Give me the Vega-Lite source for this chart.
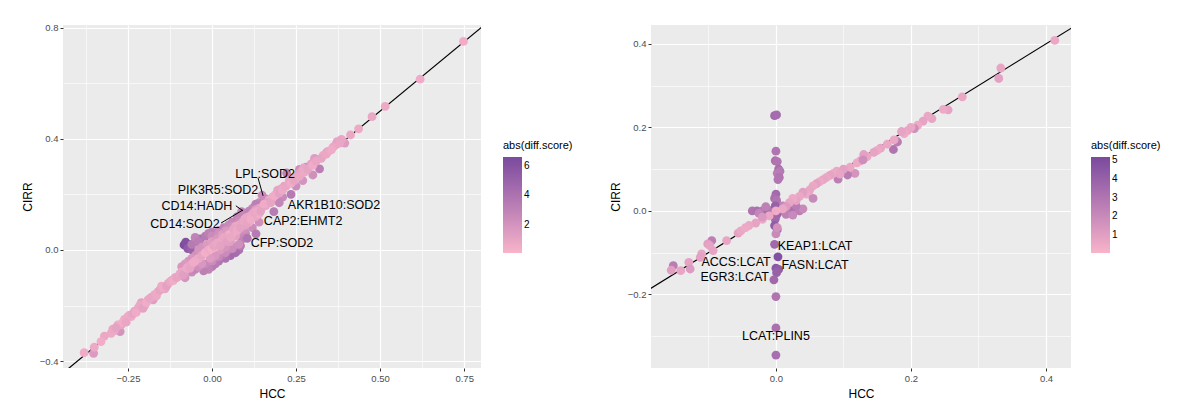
{
  "$schema": "https://vega.github.io/schema/vega-lite/v6.json",
  "background": "white",
  "padding": {"left": 21, "top": 22, "right": 0, "bottom": 0},
  "config": {
    "font": "Liberation Sans",
    "view": {"stroke": null, "fill": "#EBEBEB"},
    "axis": {"domain": false, "gridColor": "white", "tickColor": "#333333", "tickSize": 3, "labelColor": "#4D4D4D", "labelFontSize": 9.5, "labelFont": "Liberation Sans", "titleFontSize": 12, "titleFontWeight": "normal", "titleColor": "black", "titleFont": "Liberation Sans", "labelPadding": 2, "titlePadding": 5},
    "legend": {"titleFontSize": 11, "titleFontWeight": "normal", "titleColor": "black", "titleFont": "Liberation Sans", "labelFontSize": 10, "labelColor": "black", "labelFont": "Liberation Sans", "gradientLength": 96, "gradientThickness": 19, "gradientStrokeWidth": 0, "titlePadding": 6, "labelOffset": 5}
  },
  "datasets": {
    "L": [
      {"x":-0.083,"y":0.018,"d":6.5},{"x":-0.07,"y":0.02,"d":6.0},{"x":-0.078,"y":0.028,"d":6.2},{"x":-0.072,"y":0.005,"d":5.5},{"x":-0.06,"y":0.0,"d":5.0},{"x":-0.05,"y":0.03,"d":4.5},{"x":-0.045,"y":-0.01,"d":4.8},{"x":-0.035,"y":0.04,"d":4.2},{"x":-0.03,"y":0.015,"d":3.8},{"x":-0.02,"y":0.05,"d":3.5},{"x":-0.01,"y":0.06,"d":3.2},{"x":0.0,"y":0.065,"d":3.0},{"x":0.02,"y":0.07,"d":2.8},{"x":0.035,"y":0.08,"d":3.0},{"x":0.05,"y":0.09,"d":2.6},{"x":0.06,"y":0.1,"d":2.7},{"x":0.075,"y":0.12,"d":2.9},{"x":0.08,"y":0.0,"d":4.0},{"x":0.07,"y":-0.01,"d":4.3},{"x":0.065,"y":0.01,"d":3.7},{"x":0.055,"y":-0.02,"d":4.5},{"x":0.045,"y":-0.005,"d":3.9},{"x":0.04,"y":-0.03,"d":4.0},{"x":0.03,"y":-0.02,"d":3.6},{"x":0.02,"y":-0.04,"d":3.8},{"x":0.01,"y":-0.05,"d":3.4},{"x":0.0,"y":-0.06,"d":3.5},{"x":-0.01,"y":-0.07,"d":3.0},{"x":-0.025,"y":-0.075,"d":3.2},{"x":0.09,"y":0.04,"d":3.0},{"x":0.085,"y":0.015,"d":3.5},
      {"x":-0.06,"y":0.02,"d":3.5},{"x":-0.05,"y":0.045,"d":3.0},{"x":-0.04,"y":0.03,"d":3.3},{"x":0.0,"y":0.05,"d":2.5},{"x":0.02,"y":0.06,"d":2.2},{"x":0.04,"y":0.07,"d":2.0},{"x":0.06,"y":0.085,"d":2.3},{"x":0.08,"y":0.105,"d":2.5},{"x":0.1,"y":0.13,"d":2.4},{"x":0.12,"y":0.15,"d":2.6},{"x":0.14,"y":0.17,"d":2.8},{"x":0.16,"y":0.185,"d":2.3},{"x":0.11,"y":0.14,"d":3.0},{"x":0.13,"y":0.165,"d":3.2},
      {"x":-0.06,"y":-0.08,"d":2.5},{"x":-0.05,"y":-0.07,"d":2.8},{"x":-0.04,"y":-0.06,"d":2.2},{"x":-0.08,"y":-0.1,"d":2.0},{"x":-0.02,"y":-0.05,"d":2.6},{"x":0.0,"y":-0.04,"d":2.4},{"x":0.02,"y":-0.025,"d":2.7},{"x":0.04,"y":-0.01,"d":2.5},{"x":0.06,"y":0.005,"d":2.4},{"x":0.08,"y":0.02,"d":2.2},{"x":0.1,"y":0.06,"d":2.6},{"x":0.12,"y":0.08,"d":2.4},{"x":0.14,"y":0.1,"d":2.2},
      {"x":0.3,"y":0.27,"d":2.2},{"x":0.27,"y":0.25,"d":2.0},{"x":0.25,"y":0.23,"d":2.4},{"x":0.21,"y":0.19,"d":2.6},{"x":0.2,"y":0.17,"d":2.8},{"x":0.26,"y":0.29,"d":2.3},{"x":0.34,"y":0.35,"d":1.8},{"x":0.39,"y":0.39,"d":2.0},
      {"x":-0.02,"y":0.0,"d":1.2},{"x":-0.03,"y":0.01,"d":2.0},{"x":-0.05,"y":-0.02,"d":2.2},{"x":-0.06,"y":-0.03,"d":1.8},{"x":-0.07,"y":-0.04,"d":2.0},{"x":-0.08,"y":-0.05,"d":1.6},{"x":-0.09,"y":-0.06,"d":1.8},
      {"x":0.32,"y":0.292,"d":3.3},{"x":0.28,"y":0.298,"d":2.5},{"x":0.222,"y":0.277,"d":3.0},{"x":0.235,"y":0.2,"d":3.5},{"x":0.184,"y":0.138,"d":3.4},{"x":0.149,"y":0.197,"d":2.5},{"x":0.131,"y":0.058,"d":3.5},{"x":0.105,"y":0.042,"d":3.8},{"x":0.088,"y":0.138,"d":2.8},{"x":0.095,"y":0.075,"d":2.2},{"x":0.075,"y":0.055,"d":2.5},{"x":-0.273,"y":-0.294,"d":2.0},{"x":-0.352,"y":-0.372,"d":1.6},
      {"x":0.748,"y":0.751,"d":0.5},{"x":0.619,"y":0.615,"d":0.6},{"x":0.515,"y":0.517,"d":0.7},{"x":0.476,"y":0.48,"d":0.8},{"x":0.436,"y":0.436,"d":0.7},{"x":0.412,"y":0.414,"d":0.8},{"x":0.395,"y":0.385,"d":1.5},{"x":0.385,"y":0.398,"d":0.9},{"x":0.372,"y":0.39,"d":1.0},{"x":0.368,"y":0.378,"d":1.2},{"x":0.36,"y":0.37,"d":0.8},{"x":0.345,"y":0.355,"d":0.9},{"x":0.33,"y":0.34,"d":0.7},{"x":0.325,"y":0.33,"d":1.0},{"x":0.305,"y":0.33,"d":1.5},{"x":0.295,"y":0.31,"d":1.1},{"x":0.272,"y":0.295,"d":0.9},{"x":0.265,"y":0.28,"d":0.7},{"x":0.255,"y":0.272,"d":1.0},{"x":0.24,"y":0.26,"d":0.8},{"x":0.23,"y":0.25,"d":0.9},{"x":0.215,"y":0.23,"d":1.2},{"x":0.205,"y":0.22,"d":0.8},{"x":0.195,"y":0.215,"d":1.0},{"x":0.19,"y":0.2,"d":0.9},{"x":0.18,"y":0.19,"d":1.1},{"x":0.17,"y":0.18,"d":0.7},{"x":0.165,"y":0.17,"d":1.3},{"x":0.16,"y":0.16,"d":0.9},{"x":0.15,"y":0.155,"d":1.0},{"x":0.14,"y":0.15,"d":0.8},{"x":0.13,"y":0.145,"d":1.4},{"x":0.12,"y":0.13,"d":1.0},{"x":0.11,"y":0.12,"d":0.7},{"x":0.1,"y":0.115,"d":0.9},{"x":0.09,"y":0.1,"d":1.3},{"x":0.08,"y":0.09,"d":1.0},{"x":0.07,"y":0.085,"d":0.8},{"x":0.06,"y":0.07,"d":0.7},
      {"x":-0.015,"y":0.02,"d":1.6},{"x":0.0,"y":0.03,"d":1.4},{"x":0.015,"y":0.04,"d":1.8},{"x":0.03,"y":0.055,"d":1.5},{"x":0.045,"y":0.065,"d":1.7},{"x":0.025,"y":0.0,"d":1.6},{"x":0.01,"y":-0.02,"d":1.8},{"x":-0.005,"y":-0.03,"d":1.5},{"x":0.04,"y":0.01,"d":1.9},{"x":0.055,"y":0.03,"d":1.4},{"x":0.07,"y":0.05,"d":1.2},{"x":-0.04,"y":0.0,"d":2.0},{"x":-0.03,"y":-0.05,"d":1.8},
      {"x":-0.1,"y":-0.095,"d":1.0},{"x":-0.09,"y":-0.08,"d":0.6},{"x":-0.08,"y":-0.075,"d":0.8},{"x":-0.07,"y":-0.06,"d":1.2},{"x":-0.06,"y":-0.05,"d":0.9},{"x":-0.05,"y":-0.04,"d":0.5},{"x":-0.04,"y":-0.03,"d":0.7},{"x":-0.03,"y":-0.02,"d":1.0},{"x":-0.02,"y":-0.01,"d":0.4},{"x":-0.01,"y":0.0,"d":0.6},{"x":0.0,"y":0.005,"d":0.3},{"x":0.01,"y":0.01,"d":0.5},{"x":0.02,"y":0.02,"d":0.4},{"x":0.03,"y":0.035,"d":0.6},{"x":0.04,"y":0.04,"d":0.3},{"x":0.05,"y":0.055,"d":0.5},{"x":0.06,"y":0.06,"d":0.4},{"x":0.1,"y":0.09,"d":1.1},{"x":0.11,"y":0.1,"d":0.5},{"x":0.12,"y":0.115,"d":0.6},{"x":0.13,"y":0.12,"d":0.9},{"x":0.14,"y":0.13,"d":0.5},
      {"x":0.005,"y":0.015,"d":1.0},{"x":0.015,"y":0.025,"d":0.8},{"x":0.025,"y":0.015,"d":1.1},{"x":0.035,"y":0.045,"d":0.9},{"x":0.045,"y":0.03,"d":1.2},{"x":0.055,"y":0.045,"d":0.8},{"x":0.065,"y":0.075,"d":1.0},{"x":0.075,"y":0.07,"d":0.7},{"x":0.085,"y":0.08,"d":1.1},{"x":0.095,"y":0.105,"d":0.8},{"x":0.105,"y":0.1,"d":1.0},{"x":0.115,"y":0.11,"d":0.6},{"x":0.125,"y":0.135,"d":0.9},{"x":0.135,"y":0.14,"d":0.7},{"x":0.145,"y":0.14,"d":1.1},{"x":0.155,"y":0.165,"d":0.6},{"x":0.175,"y":0.17,"d":1.0},{"x":0.185,"y":0.195,"d":0.6},{"x":0.2,"y":0.205,"d":1.1},{"x":0.21,"y":0.215,"d":0.7},{"x":0.22,"y":0.23,"d":0.9},{"x":0.235,"y":0.24,"d":0.6},{"x":0.245,"y":0.25,"d":1.0},{"x":0.26,"y":0.265,"d":0.8},{"x":0.275,"y":0.28,"d":0.7},{"x":0.285,"y":0.29,"d":1.0},{"x":0.3,"y":0.305,"d":0.6},{"x":0.31,"y":0.32,"d":0.9},{"x":0.34,"y":0.345,"d":0.8},{"x":0.355,"y":0.36,"d":0.6},{"x":0.38,"y":0.385,"d":0.9},
      {"x":-0.11,"y":-0.1,"d":0.8},{"x":-0.12,"y":-0.11,"d":1.2},{"x":-0.13,"y":-0.12,"d":0.9},{"x":-0.14,"y":-0.14,"d":1.0},{"x":-0.15,"y":-0.13,"d":0.7},{"x":-0.16,"y":-0.15,"d":1.1},{"x":-0.17,"y":-0.16,"d":0.6},{"x":-0.175,"y":-0.18,"d":1.4},{"x":-0.18,"y":-0.17,"d":0.8},{"x":-0.19,"y":-0.18,"d":1.0},{"x":-0.2,"y":-0.2,"d":0.7},{"x":-0.21,"y":-0.19,"d":1.2},{"x":-0.22,"y":-0.21,"d":0.6},{"x":-0.23,"y":-0.22,"d":0.9},{"x":-0.24,"y":-0.24,"d":0.5},{"x":-0.25,"y":-0.24,"d":0.8},{"x":-0.26,"y":-0.25,"d":0.7},{"x":-0.27,"y":-0.27,"d":1.0},{"x":-0.28,"y":-0.27,"d":0.6},{"x":-0.29,"y":-0.29,"d":0.9},{"x":-0.3,"y":-0.3,"d":0.7},{"x":-0.32,"y":-0.31,"d":0.8},{"x":-0.33,"y":-0.33,"d":0.5},{"x":-0.35,"y":-0.35,"d":0.7},{"x":-0.38,"y":-0.37,"d":0.6},
      {"x":-0.295,"y":-0.285,"d":0.8},{"x":-0.285,"y":-0.28,"d":1.1},{"x":-0.265,"y":-0.26,"d":0.5},{"x":-0.255,"y":-0.26,"d":0.9},{"x":-0.245,"y":-0.235,"d":0.7},{"x":-0.235,"y":-0.23,"d":1.0},{"x":-0.225,"y":-0.225,"d":0.6},{"x":-0.215,"y":-0.2,"d":0.8},{"x":-0.205,"y":-0.21,"d":1.1},{"x":-0.195,"y":-0.19,"d":0.5},{"x":-0.185,"y":-0.175,"d":0.9},{"x":-0.165,"y":-0.165,"d":0.7},{"x":-0.155,"y":-0.145,"d":1.0},{"x":-0.145,"y":-0.135,"d":0.6},{"x":-0.135,"y":-0.13,"d":1.2},{"x":-0.125,"y":-0.115,"d":0.8},{"x":-0.115,"y":-0.11,"d":0.5},{"x":-0.105,"y":-0.1,"d":1.0},{"x":-0.095,"y":-0.085,"d":0.9},{"x":-0.085,"y":-0.09,"d":1.3},{"x":-0.075,"y":-0.065,"d":0.7},{"x":-0.065,"y":-0.065,"d":1.0},{"x":-0.055,"y":-0.045,"d":0.6}
    ],
    "R": [
      {"x":-0.035,"y":0.0,"d":3.0},{"x":-0.028,"y":0.0,"d":3.2},{"x":-0.02,"y":0.0,"d":2.8},{"x":-0.012,"y":0.0,"d":3.3},{"x":-0.005,"y":0.002,"d":2.9},{"x":0.005,"y":-0.002,"d":3.1},{"x":0.012,"y":0.0,"d":2.7},{"x":0.02,"y":0.003,"d":3.0},{"x":0.028,"y":0.0,"d":3.2},{"x":0.035,"y":0.0,"d":2.5},{"x":0.04,"y":0.005,"d":2.0},{"x":0.01,"y":0.012,"d":2.2},{"x":0.015,"y":-0.008,"d":2.4},{"x":0.025,"y":-0.01,"d":2.0},{"x":-0.015,"y":0.01,"d":2.4},{"x":0.03,"y":0.012,"d":2.6},{"x":-0.025,"y":-0.006,"d":2.2},
      {"x":-0.002,"y":0.228,"d":3.6},{"x":0.001,"y":0.23,"d":3.4},{"x":0.0,"y":0.143,"d":3.0},{"x":-0.001,"y":0.12,"d":3.2},{"x":0.002,"y":0.118,"d":3.0},{"x":0.004,"y":0.1,"d":3.4},{"x":0.006,"y":0.095,"d":2.8},{"x":0.002,"y":0.09,"d":2.6},{"x":0.005,"y":0.08,"d":3.0},{"x":0.003,"y":0.075,"d":2.9},{"x":0.0,"y":0.04,"d":3.5},{"x":-0.002,"y":0.03,"d":3.3},{"x":0.001,"y":0.025,"d":3.0},{"x":-0.001,"y":0.012,"d":4.0},{"x":0.001,"y":-0.01,"d":3.8},{"x":-0.001,"y":-0.02,"d":3.6},{"x":-0.002,"y":-0.035,"d":4.2},{"x":0.002,"y":-0.045,"d":3.5},{"x":0.0,"y":-0.055,"d":2.0},{"x":0.002,"y":-0.04,"d":1.6},{"x":-0.002,"y":-0.08,"d":3.6},{"x":0.003,"y":-0.11,"d":4.8},{"x":0.0,"y":-0.137,"d":4.5},{"x":0.004,"y":-0.14,"d":4.3},{"x":0.001,"y":-0.148,"d":4.0},{"x":-0.003,"y":-0.165,"d":3.6},{"x":0.0,"y":-0.205,"d":3.0},{"x":0.0,"y":-0.28,"d":3.2},{"x":0.0,"y":-0.345,"d":3.3},
      {"x":0.413,"y":0.408,"d":0.6},{"x":0.333,"y":0.342,"d":0.7},{"x":0.33,"y":0.317,"d":0.9},{"x":0.276,"y":0.273,"d":0.6},{"x":0.255,"y":0.242,"d":0.8},{"x":0.248,"y":0.243,"d":0.5},{"x":0.231,"y":0.221,"d":0.7},{"x":0.225,"y":0.227,"d":0.6},{"x":0.218,"y":0.215,"d":0.8},{"x":0.21,"y":0.205,"d":0.5},{"x":0.205,"y":0.197,"d":1.8},{"x":0.2,"y":0.2,"d":0.6},{"x":0.195,"y":0.192,"d":0.7},{"x":0.19,"y":0.185,"d":0.5},{"x":0.186,"y":0.19,"d":0.8},{"x":0.178,"y":0.168,"d":0.9},{"x":0.18,"y":0.165,"d":2.6},{"x":0.174,"y":0.147,"d":3.0},{"x":0.175,"y":0.17,"d":0.6},{"x":0.155,"y":0.15,"d":0.7},{"x":0.15,"y":0.145,"d":0.5},{"x":0.135,"y":0.13,"d":0.6},{"x":0.13,"y":0.135,"d":0.9},{"x":0.125,"y":0.12,"d":0.7},{"x":0.12,"y":0.115,"d":0.5},{"x":0.129,"y":0.122,"d":1.8},{"x":0.117,"y":0.09,"d":1.5},{"x":0.106,"y":0.086,"d":2.6},{"x":0.092,"y":0.076,"d":2.5},{"x":0.09,"y":0.095,"d":0.6},{"x":0.085,"y":0.09,"d":0.5},{"x":0.08,"y":0.085,"d":0.8},{"x":0.075,"y":0.08,"d":0.6},{"x":0.07,"y":0.075,"d":0.7},{"x":0.065,"y":0.07,"d":0.5},{"x":0.06,"y":0.065,"d":0.9},{"x":0.055,"y":0.06,"d":0.6},{"x":0.05,"y":0.05,"d":0.7},{"x":0.045,"y":0.04,"d":0.5},{"x":0.04,"y":0.045,"d":1.0},{"x":0.035,"y":0.035,"d":0.6},{"x":0.055,"y":0.03,"d":2.0},{"x":0.03,"y":0.025,"d":0.8},{"x":0.025,"y":0.03,"d":0.5},{"x":0.02,"y":0.02,"d":0.7},{"x":0.015,"y":0.01,"d":1.2},{"x":0.01,"y":0.005,"d":0.6},{"x":0.11,"y":0.105,"d":0.6},{"x":0.1,"y":0.1,"d":0.9},{"x":0.095,"y":0.088,"d":0.7},{"x":0.145,"y":0.14,"d":0.8},{"x":0.165,"y":0.16,"d":0.6},
      {"x":-0.01,"y":-0.012,"d":0.6},{"x":-0.02,"y":-0.02,"d":0.5},{"x":-0.03,"y":-0.029,"d":0.8},{"x":-0.04,"y":-0.035,"d":0.6},{"x":-0.056,"y":-0.053,"d":0.9},{"x":-0.073,"y":-0.071,"d":0.7},{"x":-0.093,"y":-0.095,"d":0.8},{"x":-0.095,"y":-0.071,"d":2.5},{"x":-0.101,"y":-0.079,"d":1.0},{"x":-0.098,"y":-0.083,"d":0.8},{"x":-0.11,"y":-0.103,"d":0.7},{"x":-0.112,"y":-0.111,"d":0.9},{"x":-0.129,"y":-0.123,"d":0.8},{"x":-0.127,"y":-0.139,"d":1.2},{"x":-0.141,"y":-0.143,"d":0.7},{"x":-0.152,"y":-0.131,"d":2.6},{"x":-0.155,"y":-0.142,"d":1.0},{"x":-0.052,"y":-0.048,"d":0.6},{"x":-0.045,"y":-0.04,"d":0.5},{"x":-0.02,"y":-0.015,"d":1.3},{"x":0.0,"y":0.0,"d":0.4}
    ],
    "diag": [{"x":-1,"y":-1,"x2":1,"y2":1}],
    "segL": [
      {"x":0.137,"y":0.259,"x2":0.152,"y2":0.195},
      {"x":0.071,"y":0.159,"x2":0.092,"y2":0.141},
      {"x":0.027,"y":0.097,"x2":0.092,"y2":0.144}
    ],
    "labL": [
      {"x":0.158,"y":0.274,"label":"LPL:SOD2"},
      {"x":0.018,"y":0.216,"label":"PIK3R5:SOD2"},
      {"x":-0.045,"y":0.159,"label":"CD14:HADH"},
      {"x":-0.08,"y":0.094,"label":"CD14:SOD2"},
      {"x":0.363,"y":0.162,"label":"AKR1B10:SOD2"},
      {"x":0.271,"y":0.105,"label":"CAP2:EHMT2"},
      {"x":0.208,"y":0.025,"label":"CFP:SOD2"}
    ],
    "labR": [
      {"x":0.058,"y":-0.084,"label":"KEAP1:LCAT"},
      {"x":0.058,"y":-0.129,"label":"FASN:LCAT"},
      {"x":-0.059,"y":-0.122,"label":"ACCS:LCAT"},
      {"x":-0.061,"y":-0.158,"label":"EGR3:LCAT"},
      {"x":0.0,"y":-0.299,"label":"LCAT:PLIN5"}
    ]
  },
  "hconcat": [
    {
      "width": 418,
      "height": 343,
      "layer": [
        {
          "data": {"name": "diag"},
          "mark": {"type": "rule", "clip": true, "color": "black", "strokeWidth": 1.2},
          "encoding": {
            "x": {"field": "x", "type": "quantitative", "title": "HCC", "scale": {"domain": [-0.443, 0.8], "nice": false, "zero": false}},
            "y": {"field": "y", "type": "quantitative", "title": "CIRR", "scale": {"domain": [-0.425, 0.81], "nice": false, "zero": false}},
            "x2": {"field": "x2"},
            "y2": {"field": "y2"}
          }
        },
        {
          "data": {"name": "L"},
          "mark": {"type": "circle", "size": 78, "opacity": 1},
          "encoding": {
            "x": {"field": "x", "type": "quantitative", "title": "HCC", "scale": {"domain": [-0.443, 0.8], "nice": false, "zero": false},
              "axis": {"values": [-0.375, -0.25, -0.125, 0, 0.125, 0.25, 0.375, 0.5, 0.625, 0.75], "format": ".2f", "titlePadding": 6,
                "labelExpr": "abs(datum.value*4 - round(datum.value*4)) > 0.01 ? '' : datum.label",
                "gridWidth": {"condition": {"test": "abs(datum.value*4 - round(datum.value*4)) > 0.01", "value": 0.6}, "value": 1.2},
                "tickOpacity": {"condition": {"test": "abs(datum.value*4 - round(datum.value*4)) > 0.01", "value": 0}, "value": 1}}},
            "y": {"field": "y", "type": "quantitative", "title": "CIRR", "scale": {"domain": [-0.425, 0.81], "nice": false, "zero": false},
              "axis": {"values": [-0.4, -0.2, 0, 0.2, 0.4, 0.6, 0.8], "format": ".1f",
                "labelExpr": "abs(datum.value*2.5 - round(datum.value*2.5)) > 0.01 ? '' : datum.label",
                "gridWidth": {"condition": {"test": "abs(datum.value*2.5 - round(datum.value*2.5)) > 0.01", "value": 0.6}, "value": 1.2},
                "tickOpacity": {"condition": {"test": "abs(datum.value*2.5 - round(datum.value*2.5)) > 0.01", "value": 0}, "value": 1}}},
            "color": {"field": "d", "type": "quantitative", "title": "abs(diff.score)",
              "scale": {"domain": [0.1, 6.6], "range": ["#F9B4CA", "#7A4A9E"], "interpolate": "lab"},
              "legend": {"orient": "none", "legendX": 440, "legendY": 115, "values": [2, 4, 6], "direction": "vertical"}}
          }
        },
        {
          "data": {"name": "segL"},
          "mark": {"type": "rule", "color": "black", "strokeWidth": 1},
          "encoding": {
            "x": {"field": "x", "type": "quantitative", "title": "HCC", "scale": {"domain": [-0.443, 0.8], "nice": false, "zero": false}},
            "y": {"field": "y", "type": "quantitative", "title": "CIRR", "scale": {"domain": [-0.425, 0.81], "nice": false, "zero": false}},
            "x2": {"field": "x2"},
            "y2": {"field": "y2"}
          }
        },
        {
          "data": {"name": "labL"},
          "mark": {"type": "text", "fontSize": 12.5, "font": "Liberation Sans", "color": "black"},
          "encoding": {
            "x": {"field": "x", "type": "quantitative", "title": "HCC", "scale": {"domain": [-0.443, 0.8], "nice": false, "zero": false}},
            "y": {"field": "y", "type": "quantitative", "title": "CIRR", "scale": {"domain": [-0.425, 0.81], "nice": false, "zero": false}},
            "text": {"field": "label"}
          }
        }
      ]
    },
    {
      "width": 420,
      "height": 343,
      "layer": [
        {
          "data": {"name": "diag"},
          "mark": {"type": "rule", "clip": true, "color": "black", "strokeWidth": 1.2},
          "encoding": {
            "x": {"field": "x", "type": "quantitative", "title": "HCC", "scale": {"domain": [-0.185, 0.437], "nice": false, "zero": false}},
            "y": {"field": "y", "type": "quantitative", "title": "CIRR", "scale": {"domain": [-0.376, 0.445], "nice": false, "zero": false}},
            "x2": {"field": "x2"},
            "y2": {"field": "y2"}
          }
        },
        {
          "data": {"name": "R"},
          "mark": {"type": "circle", "size": 78, "opacity": 1},
          "encoding": {
            "x": {"field": "x", "type": "quantitative", "title": "HCC", "scale": {"domain": [-0.185, 0.437], "nice": false, "zero": false},
              "axis": {"values": [-0.1, 0, 0.1, 0.2, 0.3, 0.4], "format": ".1f", "titlePadding": 6,
                "labelExpr": "abs(datum.value*5 - round(datum.value*5)) > 0.01 ? '' : datum.label",
                "gridWidth": {"condition": {"test": "abs(datum.value*5 - round(datum.value*5)) > 0.01", "value": 0.6}, "value": 1.2},
                "tickOpacity": {"condition": {"test": "abs(datum.value*5 - round(datum.value*5)) > 0.01", "value": 0}, "value": 1}}},
            "y": {"field": "y", "type": "quantitative", "title": "CIRR", "scale": {"domain": [-0.376, 0.445], "nice": false, "zero": false},
              "axis": {"values": [-0.3, -0.2, -0.1, 0, 0.1, 0.2, 0.3, 0.4], "format": ".1f",
                "labelExpr": "abs(datum.value*5 - round(datum.value*5)) > 0.01 ? '' : datum.label",
                "gridWidth": {"condition": {"test": "abs(datum.value*5 - round(datum.value*5)) > 0.01", "value": 0.6}, "value": 1.2},
                "tickOpacity": {"condition": {"test": "abs(datum.value*5 - round(datum.value*5)) > 0.01", "value": 0}, "value": 1}}},
            "color": {"field": "d", "type": "quantitative", "title": "abs(diff.score)",
              "scale": {"domain": [0.04, 5.16], "range": ["#F9B4CA", "#7A4A9E"], "interpolate": "lab"},
              "legend": {"orient": "none", "legendX": 440, "legendY": 115, "values": [1, 2, 3, 4, 5], "direction": "vertical"}}
          }
        },
        {
          "data": {"name": "labR"},
          "mark": {"type": "text", "fontSize": 12.5, "font": "Liberation Sans", "color": "black"},
          "encoding": {
            "x": {"field": "x", "type": "quantitative", "title": "HCC", "scale": {"domain": [-0.185, 0.437], "nice": false, "zero": false}},
            "y": {"field": "y", "type": "quantitative", "title": "CIRR", "scale": {"domain": [-0.376, 0.445], "nice": false, "zero": false}},
            "text": {"field": "label"}
          }
        }
      ]
    }
  ],
  "spacing": 36,
  "resolve": {"scale": {"color": "independent", "x": "independent", "y": "independent"}, "legend": {"color": "independent"}}
}
